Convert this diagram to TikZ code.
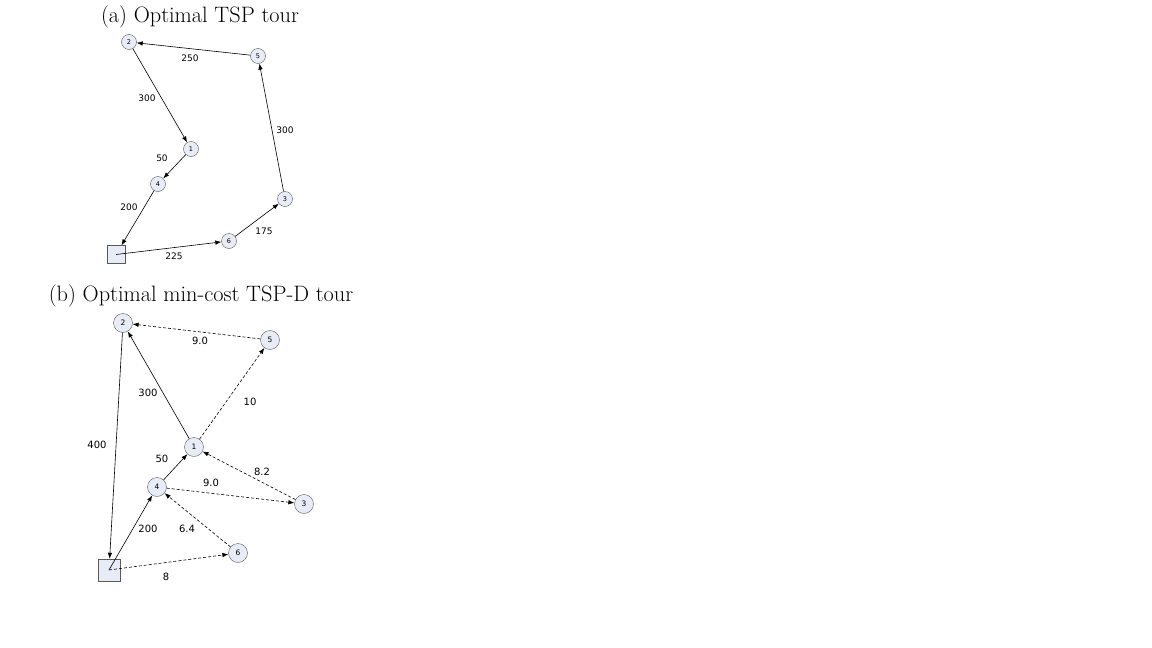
\documentclass[tikz,border=0pt]{standalone}
\usepackage{fontspec}
\newfontfamily\labfont{DejaVu Sans}
\usetikzlibrary{arrows.meta}
\definecolor{nodefill}{HTML}{E8ECF6}
\definecolor{nodeline}{HTML}{5A5A5A}
\tikzset{
  vtxa/.style={circle,draw=nodeline,fill=nodefill,minimum size=15pt,inner sep=0pt,font=\labfont\fontsize{6.5}{7}\selectfont},
  vtxb/.style={circle,draw=nodeline,fill=nodefill,minimum size=19pt,inner sep=0pt,font=\labfont\fontsize{7.5}{8}\selectfont},
  depota/.style={rectangle,draw=nodeline,fill=nodefill,minimum size=18pt,inner sep=0pt},
  depotb/.style={rectangle,draw=nodeline,fill=nodefill,minimum size=22pt,inner sep=0pt},
  elab/.style={font=\labfont\fontsize{9}{10}\selectfont,inner sep=1pt},
  elabb/.style={font=\labfont\fontsize{10}{11}\selectfont,inner sep=1pt},
  ttl/.style={font=\fontsize{22.3}{26}\selectfont,inner sep=0pt},
  arr/.style={-{Latex[length=6pt,width=4.5pt]},line width=0.6pt,black},
  darr/.style={arr,dashed,dash pattern=on 3pt off 2pt},
}
\begin{document}
\begin{tikzpicture}[x=1pt,y=-1pt]
\useasboundingbox (0,0) rectangle (1152,648);
% (a)
\node[ttl] (ta) at (200,17) {(a) Optimal TSP tour};
\node[vtxa] (a2) at (129,42) {2};
\node[vtxa] (a5) at (258,56) {5};
\node[vtxa] (a1) at (191,149) {1};
\node[vtxa] (a4) at (158,184) {4};
\node[vtxa] (a3) at (285,199) {3};
\node[vtxa] (a6) at (229,241) {6};
\node[depota] (ad) at (116,254.5) {};
\draw[arr] (a5) -- (a2);
\draw[arr] (a2) -- (a1);
\draw[arr] (a1) -- (a4);
\draw[arr] (a4) -- (ad);
\draw[arr] (ad.center) -- (a6);
\draw[arr] (a6) -- (a3);
\draw[arr] (a3) -- (a5);
\node[elab] (la1) at (190,58) {250};
\node[elab] (la2) at (147,98) {300};
\node[elab] (la3) at (162,158) {50};
\node[elab] (la4) at (129,207) {200};
\node[elab] (la5) at (174,256) {225};
\node[elab] (la6) at (264,231) {175};
\node[elab] (la7) at (285,130) {300};
% (b)
\node[ttl] (tb) at (201,296) {(b) Optimal min-cost TSP-D tour};
\node[vtxb] (b2) at (123,323) {2};
\node[vtxb] (b5) at (270,340) {5};
\node[vtxb] (b1) at (194,447) {1};
\node[vtxb] (b4) at (157,487) {4};
\node[vtxb] (b3) at (304,504) {3};
\node[vtxb] (b6) at (238,553) {6};
\node[depotb] (bd) at (109,570) {};
\draw[darr] (b5) -- (b2);
\draw[arr] (b1) -- (b2);
\draw[darr] (b1) -- (b5);
\draw[arr] (b2) -- (bd);
\draw[arr] (b4) -- (b1);
\draw[darr] (b3) -- (b1);
\draw[darr] (b4) -- (b3);
\draw[darr] (b6) -- (b4);
\draw[arr] (bd.center) -- (b4);
\draw[darr] (bd.center) -- (b6);
\node[elabb] (lb1) at (200,341) {9.0};
\node[elabb] (lb2) at (148,393) {300};
\node[elabb] (lb3) at (250,402) {10};
\node[elabb] (lb4) at (97,445) {400};
\node[elabb] (lb5) at (162,459) {50};
\node[elabb] (lb6) at (262,472) {8.2};
\node[elabb] (lb7) at (211,483) {9.0};
\node[elabb] (lb8) at (148,529) {200};
\node[elabb] (lb9) at (187,529) {6.4};
\node[elabb] (lb10) at (166,577) {8};
\end{tikzpicture}
\end{document}
